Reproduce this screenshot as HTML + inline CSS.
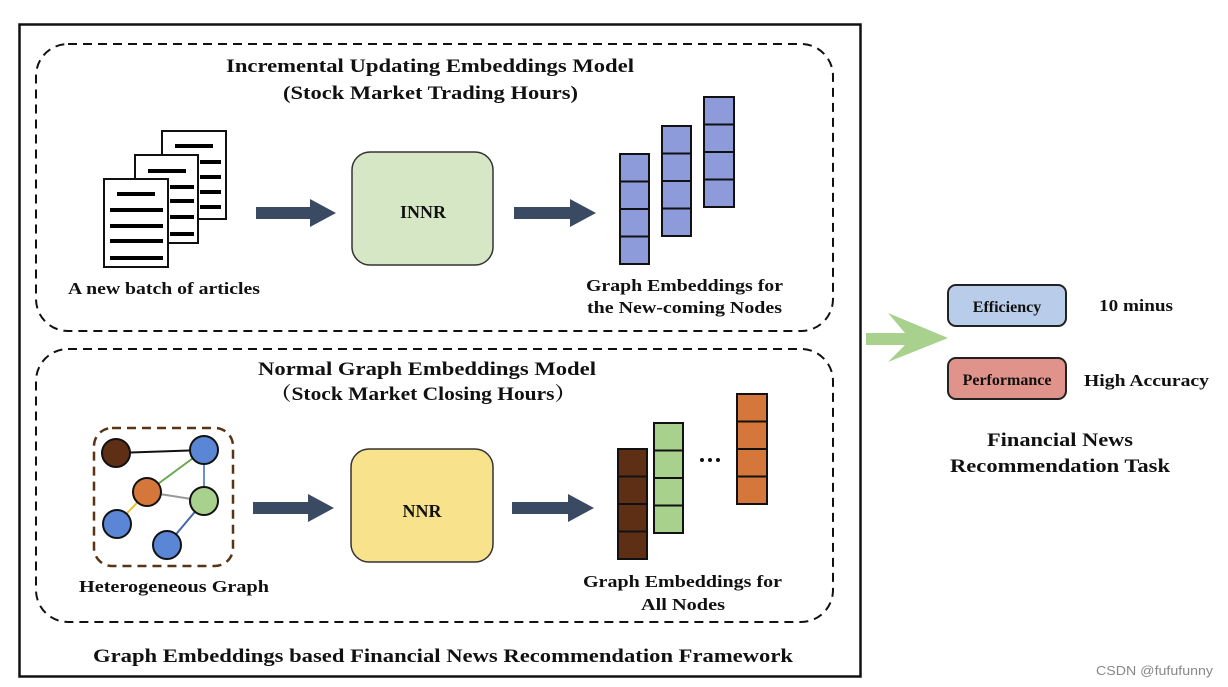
<!DOCTYPE html>
<html><head><meta charset="utf-8"><style>html,body{margin:0;padding:0;background:#fff}svg{display:block}</style></head>
<body>
<svg width="1228" height="687" viewBox="0 0 1228 687" xmlns="http://www.w3.org/2000/svg" font-family="'Liberation Serif', 'Noto Serif CJK SC', serif" font-weight="bold">
<rect x="0" y="0" width="1228" height="687" fill="#fff"/>
<rect x="19.5" y="24.5" width="841" height="652" fill="none" stroke="#111" stroke-width="2.5"/>
<rect x="36" y="44" width="797" height="287" rx="32" fill="none" stroke="#111" stroke-width="2" stroke-dasharray="9,6"/>
<rect x="36" y="349" width="797" height="273" rx="32" fill="none" stroke="#111" stroke-width="2" stroke-dasharray="9,6"/>

<g font-size="19" fill="#111">
<text x="226" y="72" textLength="408" lengthAdjust="spacingAndGlyphs">Incremental Updating Embeddings Model</text>
<text x="283" y="99" textLength="295" lengthAdjust="spacingAndGlyphs">(Stock Market Trading Hours)</text>
<text x="258" y="375" textLength="338" lengthAdjust="spacingAndGlyphs">Normal Graph Embeddings Model</text>
<text x="270" y="400" textLength="306" lengthAdjust="spacingAndGlyphs">（Stock Market Closing Hours）</text>
<text x="93" y="662" textLength="700" lengthAdjust="spacingAndGlyphs">Graph Embeddings based Financial News Recommendation Framework</text>
<text x="987" y="446" textLength="146" lengthAdjust="spacingAndGlyphs">Financial News</text>
<text x="950" y="472" textLength="220" lengthAdjust="spacingAndGlyphs">Recommendation Task</text>
</g>
<g font-size="17" fill="#111">
<text x="68" y="294" textLength="192" lengthAdjust="spacingAndGlyphs">A new batch of articles</text>
<text x="586" y="291" textLength="197" lengthAdjust="spacingAndGlyphs">Graph Embeddings for</text>
<text x="587" y="313" textLength="195" lengthAdjust="spacingAndGlyphs">the New-coming Nodes</text>
<text x="79" y="592" textLength="190" lengthAdjust="spacingAndGlyphs">Heterogeneous Graph</text>
<text x="583" y="587" textLength="199" lengthAdjust="spacingAndGlyphs">Graph Embeddings for</text>
<text x="641" y="610" textLength="84" lengthAdjust="spacingAndGlyphs">All Nodes</text>
<text x="1099" y="311" textLength="74" lengthAdjust="spacingAndGlyphs">10 minus</text>
<text x="1084" y="386" textLength="125" lengthAdjust="spacingAndGlyphs">High Accuracy</text>
</g>

<!-- documents -->
<g stroke="#111" stroke-width="2" fill="#fff">
<rect x="162" y="131" width="64" height="88"/>
<rect x="135" y="155" width="63" height="88"/>
<rect x="104" y="179" width="64" height="88"/>
</g>
<g stroke="#000" stroke-width="4">
<line x1="175" y1="146" x2="213" y2="146"/><line x1="200" y1="162" x2="221" y2="162"/><line x1="200" y1="177" x2="221" y2="177"/><line x1="200" y1="192" x2="221" y2="192"/><line x1="200" y1="207" x2="221" y2="207"/>
<line x1="148" y1="171" x2="186" y2="171"/><line x1="170" y1="187" x2="194" y2="187"/><line x1="170" y1="201" x2="194" y2="201"/><line x1="170" y1="217" x2="194" y2="217"/><line x1="170" y1="234" x2="194" y2="234"/>
<line x1="117" y1="194" x2="155" y2="194"/><line x1="110" y1="210" x2="163" y2="210"/><line x1="110" y1="226" x2="163" y2="226"/><line x1="110" y1="241" x2="163" y2="241"/><line x1="110" y1="258" x2="163" y2="258"/>
</g>

<!-- dark arrows -->
<g fill="#3b4a63">
<path d="M256 207 H310 V199 L336 213 L310 227 V219 H256 Z"/>
<path d="M514 207 H570 V199 L596 213 L570 227 V219 H514 Z"/>
<path d="M253 502 H308 V494 L334 508 L308 522 V514 H253 Z"/>
<path d="M512 502 H568 V494 L594 508 L568 522 V514 H512 Z"/>
</g>

<!-- INNR / NNR -->
<rect x="352" y="152" width="141" height="113" rx="18" fill="#d6e7c6" stroke="#333" stroke-width="1.5"/>
<text x="423" y="218" font-size="18" text-anchor="middle" fill="#111">INNR</text>
<rect x="351" y="449" width="142" height="113" rx="18" fill="#f8e38c" stroke="#333" stroke-width="1.5"/>
<text x="422" y="517" font-size="18" text-anchor="middle" fill="#111">NNR</text>

<!-- embedding columns top -->
<g stroke="#111" stroke-width="2" fill="#8e9bdb">
<rect x="620" y="154" width="29" height="27.5"/><rect x="620" y="181.5" width="29" height="27.5"/><rect x="620" y="209" width="29" height="27.5"/><rect x="620" y="236.5" width="29" height="27.5"/>
<rect x="662" y="126" width="29" height="27.5"/><rect x="662" y="153.5" width="29" height="27.5"/><rect x="662" y="181" width="29" height="27.5"/><rect x="662" y="208.5" width="29" height="27.5"/>
<rect x="704" y="97" width="30" height="27.5"/><rect x="704" y="124.5" width="30" height="27.5"/><rect x="704" y="152" width="30" height="27.5"/><rect x="704" y="179.5" width="30" height="27.5"/>
</g>
<!-- bottom columns -->
<g stroke="#111" stroke-width="2">
<g fill="#5e2f14"><rect x="618" y="449" width="29" height="27.5"/><rect x="618" y="476.5" width="29" height="27.5"/><rect x="618" y="504" width="29" height="27.5"/><rect x="618" y="531.5" width="29" height="27.5"/></g>
<g fill="#a9d18e"><rect x="654" y="423" width="29" height="27.5"/><rect x="654" y="450.5" width="29" height="27.5"/><rect x="654" y="478" width="29" height="27.5"/><rect x="654" y="505.5" width="29" height="27.5"/></g>
<g fill="#d5773a"><rect x="737" y="394" width="30" height="27.5"/><rect x="737" y="421.5" width="30" height="27.5"/><rect x="737" y="449" width="30" height="27.5"/><rect x="737" y="476.5" width="30" height="27.5"/></g>
</g>
<g fill="#111"><circle cx="702" cy="460" r="2"/><circle cx="710" cy="460" r="2"/><circle cx="718" cy="460" r="2"/></g>

<!-- graph -->
<rect x="94" y="428" width="139" height="138" rx="18" fill="none" stroke="#5a3315" stroke-width="2.5" stroke-dasharray="9,6"/>
<g stroke-width="2">
<line x1="116" y1="453" x2="204" y2="450" stroke="#111"/>
<line x1="147" y1="492" x2="204" y2="450" stroke="#6aa84f"/>
<line x1="204" y1="450" x2="204" y2="501" stroke="#6d8fcf"/>
<line x1="147" y1="492" x2="204" y2="501" stroke="#999"/>
<line x1="147" y1="492" x2="117" y2="524" stroke="#e8c42a"/>
<line x1="204" y1="501" x2="167" y2="545" stroke="#4466aa"/>
</g>
<g stroke="#111" stroke-width="2">
<circle cx="116" cy="453" r="14" fill="#5e2f14"/>
<circle cx="204" cy="450" r="14" fill="#5b86d6"/>
<circle cx="147" cy="492" r="14" fill="#d5773a"/>
<circle cx="204" cy="501" r="14" fill="#a9d18e"/>
<circle cx="117" cy="524" r="14" fill="#5b86d6"/>
<circle cx="167" cy="545" r="14" fill="#5b86d6"/>
</g>

<!-- right panel -->
<path d="M866 333 H905 L888 313 L948 338 L888 362 L905 345 H866 Z" fill="#a9d18e"/>
<rect x="948" y="285" width="118" height="41" rx="8" fill="#b9cdea" stroke="#222" stroke-width="2"/>
<text x="1007" y="312" font-size="16" text-anchor="middle" fill="#111">Efficiency</text>
<rect x="948" y="358" width="118" height="41" rx="8" fill="#e0938a" stroke="#222" stroke-width="2"/>
<text x="1007" y="385" font-size="16" text-anchor="middle" fill="#111">Performance</text>

<text x="1096" y="675" font-size="13" font-weight="normal" fill="#888" font-family="'Liberation Sans', sans-serif" textLength="117" lengthAdjust="spacingAndGlyphs">CSDN @fufufunny</text>
</svg>
</body></html>
